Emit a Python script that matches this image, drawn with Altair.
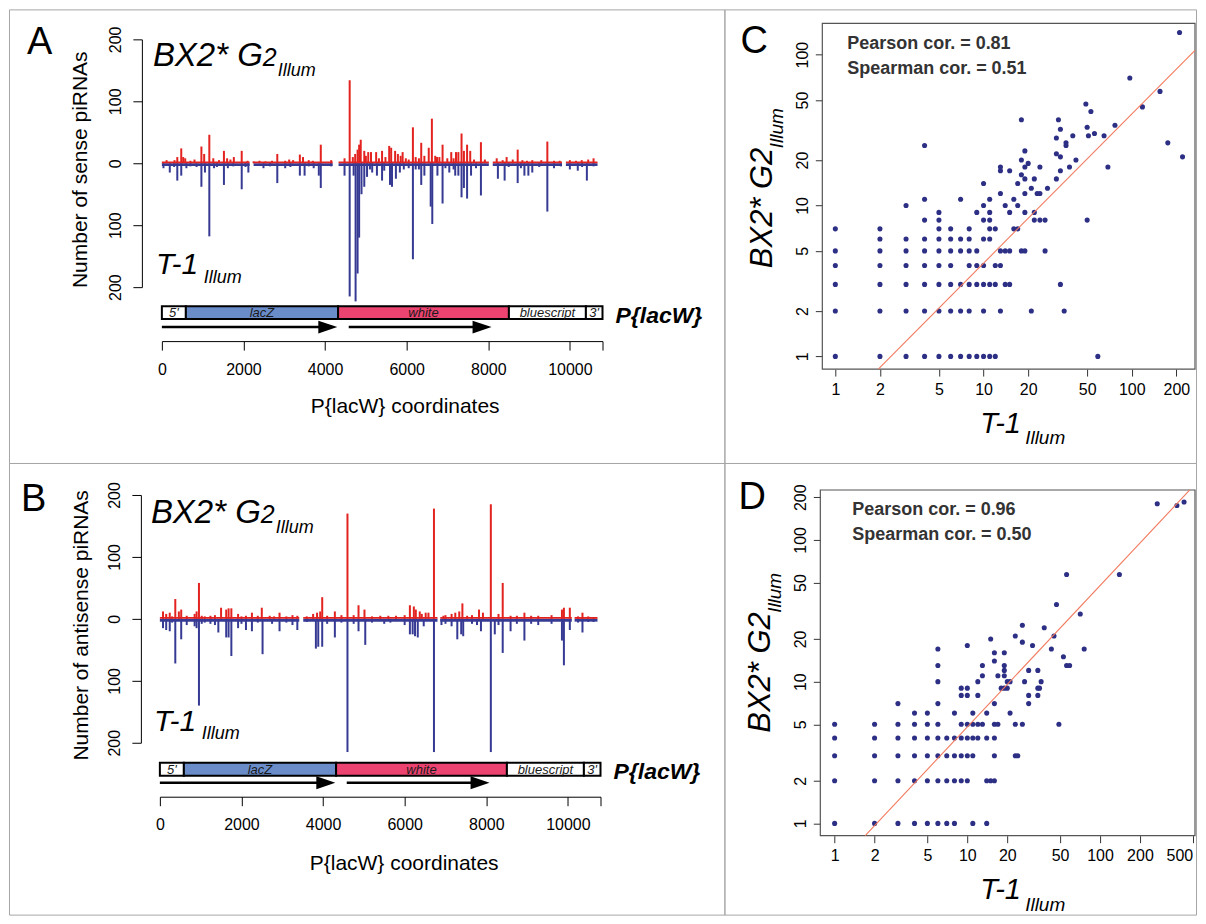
import altair as alt
import pandas as pd

FONT = "Liberation Sans"
RED = "#e3231f"
BLUE = "#363a93"
DOT = "#2d2f85"
FIT = "#f27a5e"
LACZ = "#6a8dca"
WHITE_GENE = "#ec4370"
GRID = "#a6a6a6"

# ---------------- Panel A : sense piRNAs ----------------
A_red_pos = [116, 310, 378, 475, 523, 572, 700, 800, 969, 1037, 1163, 1260, 1400, 1521, 1599, 1680,
             1764, 1957, 2100, 2248, 2393, 2539, 2700, 2829, 3023, 3120, 3217, 3382, 3459, 3600, 3700,
             3895, 4150, 4477, 4603, 4680, 4738, 4797, 4835, 4874, 4961, 5000, 5058, 5126, 5252, 5320,
             5397, 5480, 5572, 5620, 5717, 5785, 5853, 5901, 5979, 6050, 6153, 6221, 6300, 6357, 6434,
             6541, 6618, 6700, 6744, 6802, 6880, 6996, 7093, 7150, 7209, 7267, 7345, 7403, 7481, 7558,
             7650, 7820, 7917, 8207, 8353, 8450, 8600, 8721, 8837, 8950, 9079, 9300, 9448, 9612, 9750,
             10000, 10150, 10291, 10450, 10581]
A_red_val = [5, 5, 10, 24, 10, 8, 4, 6, 27, 15, 46, 8, 5, 20, 8, 6,
             10, 20, 4, 3, 4, 3, 4, 15, 4, 6, 5, 14, 10, 5, 4,
             30, 5, 8, 134, 10, 15, 22, 30, 38, 20, 12, 18, 18, 18, 8,
             20, 10, 28, 25, 20, 15, 12, 18, 8, 6, 58, 10, 8, 33, 12,
             25, 72, 12, 10, 10, 30, 8, 18, 8, 18, 18, 48, 20, 30, 20,
             6, 34, 6, 8, 5, 10, 6, 22, 5, 4, 5, 5, 35, 4, 4,
             5, 4, 5, 6, 8]
A_blue_pos = [39, 194, 300, 378, 475, 601, 700, 850, 969, 1056, 1163, 1279, 1350, 1521, 1618, 1750,
              1957, 2050, 2120, 2490, 2650, 2829, 3023, 3150, 3382, 3498, 3600, 3721, 3847, 3895, 4150,
              4477, 4603, 4700, 4748, 4797, 4835, 4893, 4961, 5029, 5100, 5155, 5271, 5397, 5450, 5591,
              5640, 5736, 5833, 5930, 6050, 6153, 6221, 6300, 6357, 6434, 6589, 6628, 6754, 6880, 6950,
              7045, 7150, 7190, 7267, 7345, 7403, 7481, 7578, 7700, 7820, 8236, 8401, 8500, 8721, 8800,
              8886, 8983, 9079, 9250, 9448, 9612, 9780, 10000, 10194, 10300, 10417, 10581]
A_blue_val = [8, 15, 6, 28, 20, 8, 5, 6, 38, 15, 118, 8, 6, 35, 8, 5,
              42, 6, 15, 8, 5, 32, 8, 6, 20, 20, 5, 8, 20, 40, 5,
              20, 215, 20, 223, 178, 120, 50, 38, 22, 10, 15, 20, 28, 12, 35,
              38, 25, 15, 10, 8, 155, 10, 10, 35, 20, 70, 98, 20, 65, 8,
              15, 10, 20, 20, 55, 40, 57, 20, 8, 52, 25, 28, 6, 32, 8,
              20, 20, 15, 6, 78, 8, 5, 10, 12, 6, 28, 5]
A_cov_start = [0, 2248, 4331, 8110, 9903]
A_cov_end = [2151, 4186, 8014, 9806, 10678]

# ---------------- Panel B : antisense piRNAs ----------------
B_red_pos = [77, 155, 242, 378, 465, 523, 658, 852, 900, 958, 1026, 1239, 1500, 1626, 1684, 1752,
             1917, 2110, 2256, 2498, 2691, 2933, 3369, 3756, 3853, 3930, 3979, 4289, 4598, 4869, 5015,
             5402, 5789, 6128, 6225, 6273, 6370, 6515, 6583, 6718, 6950, 7241, 7338, 7415, 7531, 7822,
             7919, 8112, 8403, 8596, 8935, 9274, 9855, 9903, 10048, 10358, 10629,
             300, 1100, 1350, 2000, 2400, 2800, 3100, 3250, 3600, 4100, 4450, 4750, 5200, 5600, 6000,
             6420, 7000, 7150, 7650, 8300, 8750, 9100, 9600, 10250, 10500]
B_red_val = [12, 8, 10, 32, 12, 15, 5, 8, 12, 58, 5, 5, 18, 15, 17, 17,
             8, 5, 10, 18, 5, 10, 5, 8, 10, 12, 35, 12, 170, 22, 15,
             5, 5, 22, 20, 15, 12, 10, 10, 178, 5, 10, 12, 25, 5, 15,
             10, 185, 58, 5, 10, 5, 15, 18, 18, 10, 3,
             4, 4, 6, 4, 5, 4, 4, 6, 4, 5, 6, 6, 4, 5, 6,
             8, 6, 8, 6, 8, 5, 5, 6, 4, 4]
B_blue_pos = [77, 155, 242, 378, 523, 658, 852, 900, 958, 1026, 1239, 1433, 1626, 1684, 1752, 1917,
              2110, 2256, 2517, 2933, 3369, 3824, 3882, 3979, 4289, 4598, 4869, 5034, 5499, 6128, 6196,
              6254, 6321, 6467, 6718, 6902, 7290, 7386, 7435, 7773, 7870, 8112, 8209, 8403, 8596, 8935,
              9274, 9855, 9903, 10048, 10358, 10629,
              300, 1100, 1350, 2000, 2400, 2750, 3100, 3250, 3600, 4100, 4450, 4750, 5200, 5650, 6000,
              7000, 7150, 7650, 8300, 8750, 9100, 9600, 10250, 10500]
B_blue_val = [15, 18, 20, 72, 33, 10, 12, 15, 140, 8, 8, 22, 30, 30, 60, 15,
              18, 20, 57, 20, 18, 48, 45, 45, 30, 215, 20, 42, 8, 25, 25,
              28, 30, 12, 215, 10, 33, 25, 28, 10, 20, 215, 25, 55, 20, 35,
              10, 35, 75, 18, 22, 5,
              6, 6, 10, 8, 6, 8, 6, 10, 5, 8, 6, 8, 6, 6, 10,
              8, 12, 8, 10, 8, 8, 8, 6, 5]
B_cov_start = [0, 3514, 6873, 10165]
B_cov_end = [3417, 6805, 10097, 10726]

# ---------------- P{lacW} map ----------------
GENE_NAMES = ["5'", "lacZ", "white", "bluescript", "3'"]
GENE_START = [0, 588, 4319, 8506, 10393]
GENE_END = [588, 4319, 8506, 10393, 10800]
GENE_FILL = ["white", LACZ, WHITE_GENE, "white", "white"]
ARROW_START = [0, 4580]
ARROW_TIP = [4300, 8080]
X_TICKS = [0, 2000, 4000, 6000, 8000, 10000, 10800]
Y_TICKS = [-200, -100, 0, 100, 200]

# ---------------- Panel C scatter (sense) ----------------
C_x = [1, 1, 1, 1, 1, 1,
       2, 2, 2, 2, 2, 2, 2,
       3, 3, 3, 3, 3, 3, 3,
       4, 4, 4, 4, 4, 4, 4, 4, 4,
       5, 5, 5, 5, 5, 5, 5, 5, 5,
       6, 6, 6, 6, 6, 6, 6,
       7, 7, 7, 7, 7, 7,
       8, 8, 8, 8, 8, 8, 8,
       9, 9, 9, 9, 9,
       10, 10, 10, 10, 10, 10, 10, 10,
       11, 11, 11, 11, 11, 11, 11,
       12, 12, 12, 12,
       13, 13, 13, 13, 13, 13,
       14, 14, 14,
       15, 15, 15, 15,
       16, 16,
       17, 17, 17,
       18, 18, 18, 18,
       19, 19, 19, 19, 19, 19,
       20,
       21, 21,
       22, 22, 22,
       23,
       24, 24, 24,
       26, 26,
       27,
       31, 31, 31,
       32,
       33, 33, 33, 33,
       35,
       36, 36,
       38, 40, 42,
       49, 50, 50, 51, 53, 56, 59, 65, 69, 77, 97, 118, 155, 175, 210, 220]
C_y = [7, 5, 4, 3, 2, 1,
       7, 6, 5, 4, 3, 2, 1,
       10, 6, 5, 4, 3, 2, 1,
       25, 11, 8, 6, 5, 4, 3, 2, 1,
       9, 8, 7, 6, 5, 4, 3, 2, 1,
       7, 6, 5, 4, 3, 2, 1,
       11, 6, 5, 3, 2, 1,
       7, 6, 5, 4, 3, 2, 1,
       9, 5, 4, 3, 1,
       14, 10, 8, 6, 4, 3, 2, 1,
       11, 9, 8, 7, 6, 3, 1,
       7, 4, 3, 1,
       18, 17, 12, 5, 4, 2,
       10, 5, 3,
       17, 9, 5, 3,
       11, 7,
       14, 10, 7,
       37, 20, 16, 5,
       23, 18, 15, 12, 9, 5,
       19,
       13, 2,
       15, 9, 8,
       12,
       18, 12, 8,
       8, 5,
       13,
       28, 22, 15,
       37,
       32, 21, 17, 3,
       2,
       26, 25,
       18, 29, 20,
       47, 33, 8, 29, 42, 30, 1, 29, 18, 34, 70, 45, 57, 26, 140, 21]
C_fit_x = [1.95, 267]
C_fit_y = [0.824, 106.5]
C_xdom = [0.817, 267]
C_ydom = [0.824, 161]
C_xticks = [1, 2, 5, 10, 20, 50, 100, 200]
C_yticks = [1, 2, 5, 10, 20, 50, 100]

# ---------------- Panel D scatter (antisense) ----------------
D_x = [1, 1, 1, 1, 1,
       2, 2, 2, 2, 2,
       3, 3, 3, 3, 3, 3,
       4, 4, 4, 4, 4, 4,
       5, 5, 5, 5, 5, 5,
       6, 6, 6, 6, 6, 6, 6, 6, 6,
       7, 7, 7, 7,
       8, 8, 8, 8, 8,
       9, 9, 9, 9, 9, 9,
       10, 10, 10, 10, 10, 10, 10,
       11, 11, 11, 11, 11,
       12, 12, 12, 12,
       13, 13, 13,
       14, 14, 14, 14,
       15, 15,
       16, 16, 16, 16, 16, 16, 16,
       17, 17,
       18,
       19, 19, 19, 19, 19,
       20, 20,
       21, 21,
       23, 23, 23,
       24,
       26, 26, 26,
       27,
       29, 29, 29,
       31,
       34, 34, 34,
       35, 36, 38, 43, 45, 47, 49, 53,
       56, 56,
       59, 71, 76, 140, 270, 380, 430]
D_y = [5, 4, 3, 2, 1,
       5, 4, 3, 2, 1,
       7, 5, 4, 3, 2, 1,
       6, 5, 4, 3, 2, 1,
       6, 5, 4, 3, 2, 1,
       17, 13, 10, 7, 5, 4, 3, 2, 1,
       4, 3, 2, 1,
       6, 4, 3, 2, 1,
       9, 8, 5, 4, 3, 2,
       18, 9, 8, 5, 4, 3, 2,
       6, 5, 4, 3, 1,
       10, 8, 5, 4,
       13, 11, 5,
       6, 4, 2, 1,
       20, 2,
       16, 14, 7, 5, 4, 3, 2,
       11, 5,
       9,
       16, 13, 12, 11, 9,
       10, 9,
       10, 6,
       21, 5, 3,
       3,
       25, 19, 5,
       10,
       12, 8, 7,
       18,
       12, 9, 8,
       9, 10, 24, 17, 21, 35, 5, 15,
       57, 13,
       13, 30, 17, 57, 180, 175, 185]
D_fit_x = [1.70, 475]
D_fit_y = [0.819, 225]
D_xdom = [0.78, 520]
D_ydom = [0.819, 225]
D_xticks = [1, 2, 5, 10, 20, 50, 100, 200, 500]
D_yticks = [1, 2, 5, 10, 20, 50, 100, 200]

LEFT_W, RIGHT_W = 716, 472
TOP_H, BOT_H = 454, 452

ONE = alt.Data(values=[{}])


def label(text, x, y, size, style="normal", weight="normal", angle=0, color="black"):
    return alt.Chart(ONE).mark_text(
        text=text, font=FONT, fontSize=size, fontStyle=style, fontWeight=weight,
        angle=angle, align="left", baseline="alphabetic", color=color,
    ).encode(x=alt.value(x), y=alt.value(y))


def left_panel(red_pos, red_val, blue_pos, blue_val, cov_s, cov_e, g, ytitle, cell_h):
    xs = alt.Scale(domain=[0, 10800], range=[g["x0"], g["x1"]], nice=False, zero=False)
    ys = alt.Scale(domain=[-200, 200], range=[g["yb"], g["yt"]], nice=False, zero=False)
    x_axis = alt.Axis(
        values=X_TICKS, format="d", labelExpr="datum.value > 10500 ? '' : datum.label",
        offset=g["xaxis"] - cell_h, tickSize=9, labelPadding=11, labelFontSize=16,
        labelFlush=False, labelOverlap=False,
        title="P{lacW} coordinates", titleFontSize=21, titleFontWeight="normal",
        titleX=g["xtx"], titleY=g["xty"], titleAlign="center", titleBaseline="alphabetic",
    )
    y_axis = alt.Axis(
        values=Y_TICKS, labelExpr="format(abs(datum.value), 'd')", labelAngle=270,
        labelAlign="center", labelBaseline="alphabetic",
        offset=-g["yaxis"], tickSize=9, labelPadding=12, labelFontSize=16,
        labelFlush=False, labelOverlap=False,
        title=ytitle, titleFontSize=21, titleFontWeight="normal", titleAngle=270,
        titleX=g["ytx"] - g["yaxis"], titleY=g["yty"], titleAlign="center", titleBaseline="middle",
    )
    red = pd.DataFrame({"pos": red_pos, "zero": 0, "v": red_val})
    blue = pd.DataFrame({"pos": blue_pos, "zero": 0, "v": [-v for v in blue_val]})
    cov_r = pd.DataFrame({"pos": cov_s, "e": cov_e, "zero": 0, "v": 3})
    cov_b = pd.DataFrame({"pos": cov_s, "e": cov_e, "zero": 0, "v": -4.5})
    genes = pd.DataFrame({"name": GENE_NAMES, "pos": GENE_START, "e": GENE_END, "fill": GENE_FILL})
    genes["mid"] = (genes["pos"] + genes["e"]) / 2
    arrows = pd.DataFrame({"pos": ARROW_START, "tip": ARROW_TIP})
    arrows["e"] = arrows["tip"] - 300

    X = lambda f: alt.X(f, scale=xs, axis=x_axis)
    Y = lambda f: alt.Y(f, scale=ys, axis=y_axis)

    red_l = alt.Chart(red).mark_rule(color=RED, strokeWidth=2).encode(
        x=X("pos:Q"), y=Y("zero:Q"), y2="v:Q")
    blue_l = alt.Chart(blue).mark_rule(color=BLUE, strokeWidth=2).encode(
        x=X("pos:Q"), y=Y("zero:Q"), y2="v:Q")
    cov_blue_l = alt.Chart(cov_b).mark_rect(color=BLUE).encode(
        x=X("pos:Q"), x2="e:Q", y=Y("zero:Q"), y2="v:Q")
    cov_red_l = alt.Chart(cov_r).mark_rect(color=RED).encode(
        x=X("pos:Q"), x2="e:Q", y=Y("zero:Q"), y2="v:Q")
    gene_l = alt.Chart(genes).mark_rect(stroke="black", strokeWidth=2).encode(
        x=X("pos:Q"), x2="e:Q",
        y=alt.value(g["gy0"]), y2=alt.value(g["gy1"]),
        fill=alt.Fill("fill:N", scale=None))
    gene_t = alt.Chart(genes).mark_text(font=FONT, fontSize=13, fontStyle="italic",
                                        baseline="middle", color="#1a1a1a").encode(
        x=X("mid:Q"), y=alt.value((g["gy0"] + g["gy1"]) / 2 + 0.5), text="name:N")
    arrow_l = alt.Chart(arrows).mark_rule(color="black", strokeWidth=2.5).encode(
        x=X("pos:Q"), x2="e:Q", y=alt.value(g["ay"]))
    arrow_h = alt.Chart(arrows).mark_point(
        shape="M -2 -0.68 L 0 0 L -2 0.68 Z", size=361, filled=True, color="black",
        opacity=1, strokeWidth=0).encode(x=X("tip:Q"), y=alt.value(g["ay"]))
    t = g["txt"]
    texts = [
        label(g["letter"], t["letter"][0], t["letter"][1], 38),
        label("BX2* G", t["bx"][0], t["bx"][1], 33, style="italic"),
        label("2", t["bx2"][0], t["bx2"][1], 25, style="italic"),
        label("Illum", t["bxs"][0], t["bxs"][1], 18, style="italic"),
        label("T-1", t["t1"][0], t["t1"][1], 30, style="italic"),
        label("Illum", t["t1s"][0], t["t1s"][1], 18, style="italic"),
        label("P{lacW}", t["plw"][0], t["plw"][1], 23, style="italic", weight="bold"),
    ]
    return alt.layer(red_l, blue_l, cov_blue_l, cov_red_l, gene_l, gene_t, arrow_l, arrow_h,
                     *texts).properties(width=LEFT_W, height=cell_h)


def scatter_panel(xv, yv, fx, fy, xdom, ydom, xt, yt, g, cell_h, pear, spear, flush):
    xs = alt.Scale(type="log", domain=xdom, range=[g["x0"], g["x1"]], nice=False)
    ys = alt.Scale(type="log", domain=ydom, range=[g["yb"], g["yt"]], nice=False)
    x_axis = alt.Axis(values=xt, format="d", domain=False, offset=g["yb"] - cell_h,
                      tickSize=7, tickColor="#333333", labelPadding=5, labelFontSize=16,
                      labelFlush=flush, labelOverlap=False, title=None)
    y_axis = alt.Axis(values=yt, format="d", domain=False, offset=-g["x0"],
                      tickSize=7, tickColor="#333333", labelPadding=8, labelFontSize=16,
                      labelAngle=270, labelAlign="center", labelBaseline="alphabetic",
                      labelFlush=False, labelOverlap=False, title=None)
    pts = pd.DataFrame({"x": xv, "y": yv})
    fit = pd.DataFrame({"x": fx, "y": fy})
    box = pd.DataFrame({"x": [xdom[0]], "x2": [xdom[1]], "y": [ydom[0]], "y2": [ydom[1]]})
    frame = alt.Chart(box).mark_rect(fill="transparent", stroke="#555555", strokeWidth=1.2).encode(
        x=alt.X("x:Q", scale=xs, axis=x_axis), x2="x2:Q",
        y=alt.Y("y:Q", scale=ys, axis=y_axis), y2="y2:Q")
    line = alt.Chart(fit).mark_line(color=FIT, strokeWidth=1.1).encode(
        x=alt.X("x:Q", scale=xs, axis=x_axis), y=alt.Y("y:Q", scale=ys, axis=y_axis))
    points = alt.Chart(pts).mark_circle(size=26, color=DOT, opacity=1).encode(
        x=alt.X("x:Q", scale=xs, axis=x_axis), y=alt.Y("y:Q", scale=ys, axis=y_axis))
    t = g["txt"]
    texts = [
        label(g["letter"], t["letter"][0], t["letter"][1], 38),
        label(pear, t["p"][0], t["p"][1], 18, weight="bold", color="#333333"),
        label(spear, t["s"][0], t["s"][1], 18, weight="bold", color="#333333"),
        label("BX2* G2", t["yt"][0], t["yt"][1], 31, style="italic", angle=270),
        label("Illum", t["yts"][0], t["yts"][1], 19, style="italic", angle=270),
        label("T-1", t["xt"][0], t["xt"][1], 29, style="italic"),
        label("Illum", t["xts"][0], t["xts"][1], 19, style="italic"),
    ]
    return alt.layer(frame, points, line, *texts).properties(width=RIGHT_W, height=cell_h)


GA = dict(x0=153, x1=594, yb=278, yt=30, xaxis=332, yaxis=133, xtx=396, xty=71, ytx=72, yty=160,
          gy0=297, gy1=310, ay=318, letter="A",
          txt=dict(letter=(18, 45), bx=(144, 57), bx2=(254, 57), bxs=(269, 67), t1=(147, 265),
                   t1s=(195, 274), plw=(607, 314)))
GB = dict(x0=151, x1=592, yb=280, yt=32, xaxis=334, yaxis=132, xtx=395, xty=73, ytx=73, yty=162,
          gy0=300, gy1=313, ay=320, letter="B",
          txt=dict(letter=(12, 48), bx=(142, 60), bx2=(252, 60), bxs=(267, 70), t1=(145, 268),
                   t1s=(193, 276), plw=(605, 316)))
GC = dict(x0=98, x1=471, yb=360, yt=14, letter="C",
          txt=dict(letter=(16, 44), p=(123, 40), s=(123, 65), yt=(48, 259), yts=(59, 139),
                   xt=(256, 424), xts=(301, 435)))
GD = dict(x0=96, x1=471, yb=373, yt=27, letter="D",
          txt=dict(letter=(14, 46), p=(128, 52), s=(128, 77), yt=(46, 270), yts=(57, 150),
                   xt=(256, 436), xts=(301, 448)))

panel_a = left_panel(A_red_pos, A_red_val, A_blue_pos, A_blue_val, A_cov_start, A_cov_end, GA,
                     "Number of sense piRNAs", TOP_H)
panel_b = left_panel(B_red_pos, B_red_val, B_blue_pos, B_blue_val, B_cov_start, B_cov_end, GB,
                     "Number of antisense piRNAs", BOT_H)
panel_c = scatter_panel(C_x, C_y, C_fit_x, C_fit_y, C_xdom, C_ydom, C_xticks, C_yticks, GC, TOP_H,
                        "Pearson cor. = 0.81", "Spearman cor. = 0.51", False)
panel_d = scatter_panel(D_x, D_y, D_fit_x, D_fit_y, D_xdom, D_ydom, D_xticks, D_yticks, GD, BOT_H,
                        "Pearson cor. = 0.96", "Spearman cor. = 0.50", 3)

chart = alt.concat(panel_a, panel_c, panel_b, panel_d, columns=2, spacing=0, bounds="flush").properties(
    padding=0
).configure_view(stroke=GRID, strokeWidth=1).configure_axis(
    grid=False, domainColor="black", tickColor="black", labelColor="black", titleColor="black",
    labelFont=FONT, titleFont=FONT, domainWidth=1, tickWidth=1,
)

chart.save("out.html", embed_options={"renderer": "svg", "actions": False})
